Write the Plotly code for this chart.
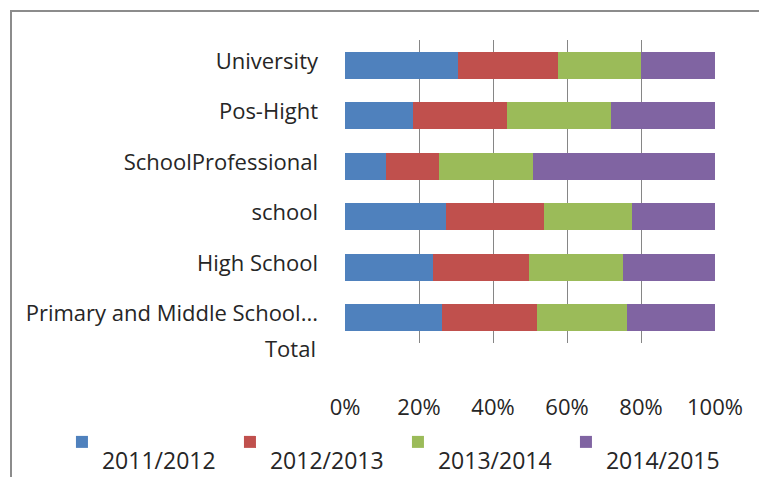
import plotly.graph_objects as go

# Education levels, listed top to bottom
categories = ["University", "Pos-Hight", "SchoolProfessional", "school",
              "High School", "Primary and Middle School..."]
total_label = "Total"

# Share of each school year per level (%)
years = ["2011/2012", "2012/2013", "2013/2014", "2014/2015"]
s2011_2012 = [30.6, 18.3, 11.1, 27.3, 23.7, 26.1]
s2012_2013 = [27.0, 25.4, 14.2, 26.5, 25.9, 25.7]
s2013_2014 = [22.4, 28.2, 25.4, 23.9, 25.5, 24.3]
s2014_2015 = [20.0, 28.1, 49.3, 22.3, 24.9, 23.9]

x_ticks = [0, 20, 40, 60, 80, 100]
x_tick_labels = ["0%", "20%", "40%", "60%", "80%", "100%"]

colors = ["#4F81BD", "#C0504D", "#9BBB59", "#8064A2"]
series = [s2011_2012, s2012_2013, s2013_2014, s2014_2015]

FONT = "Open Sans"
TEXT = "#262626"

fig = go.Figure()
for name, vals, col in zip(years, series, colors):
    fig.add_trace(go.Bar(
        y=categories, x=vals, orientation="h",
        # empty first line keeps the swatch above the label
        name="<br><span style='font-size:23px'>" + name + "</span>",
        marker=dict(color=col, line=dict(width=0)),
    ))

fig.update_layout(
    width=759, height=477,
    margin=dict(l=345, r=44, t=40, b=134, autoexpand=False),
    paper_bgcolor="white", plot_bgcolor="white",
    barmode="stack", barnorm="percent", bargap=0.465,
    font=dict(family=FONT, color=TEXT, size=22),
    showlegend=True,
    legend=dict(
        orientation="h", x=-0.765, y=-0.2706, xanchor="left", yanchor="top",
        valign="top", font=dict(family=FONT, size=16, color=TEXT),
        entrywidth=123, entrywidthmode="pixels", traceorder="normal",
        bgcolor="rgba(0,0,0,0)",
    ),
    xaxis=dict(
        range=[0, 100], tickvals=x_ticks, ticktext=x_tick_labels,
        showgrid=True, gridcolor="#868686", gridwidth=1,
        zeroline=False, showline=False, ticks="",
        ticklabelstandoff=49, tickfont=dict(size=22, color=TEXT),
        fixedrange=True,
    ),
    yaxis=dict(
        categoryorder="array", categoryarray=categories, autorange="reversed",
        showgrid=False, zeroline=False, showline=False, ticks="",
        ticklabelstandoff=26, ticklabelshift=4,
        tickfont=dict(size=22, color=TEXT),
        fixedrange=True,
    ),
)

# trailing category label below the last bar
fig.add_annotation(
    text=total_label, xref="paper", yref="paper",
    x=-0.073, y=-0.017, xanchor="right", yanchor="middle",
    showarrow=False, font=dict(family=FONT, size=22, color=TEXT),
)

# chart frame
fig.add_shape(
    type="rect", xref="paper", yref="paper",
    x0=(11 - 345) / 370, x1=1.3, y0=-0.6, y1=(343 - 11) / 303,
    line=dict(color="#8C8C8C", width=2), fillcolor="rgba(0,0,0,0)",
    layer="below",
)

fig.write_html("out.html")
